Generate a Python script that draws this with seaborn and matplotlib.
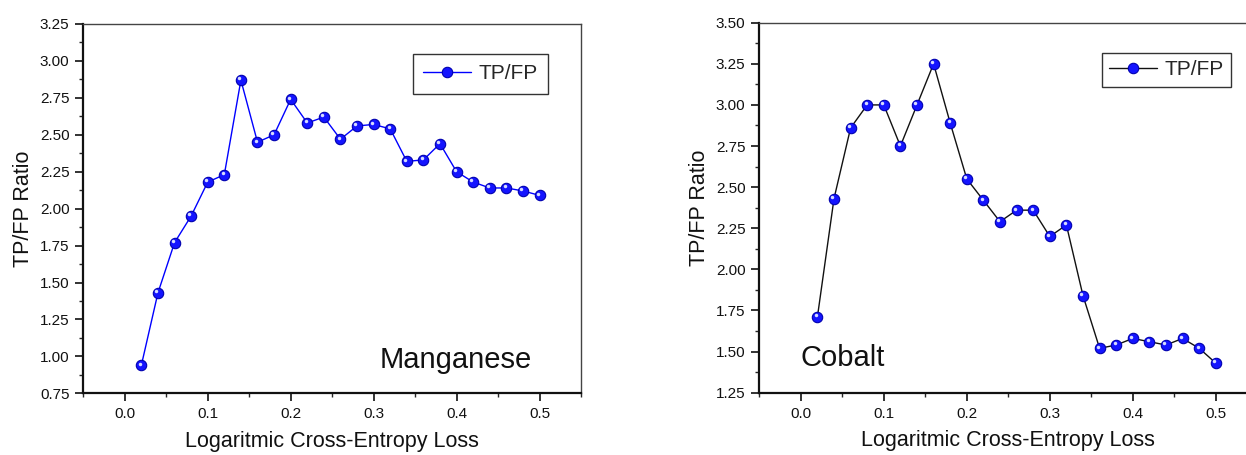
import matplotlib
matplotlib.use("Agg")
import matplotlib.pyplot as plt
import matplotlib.transforms as mtransforms
from matplotlib.ticker import MultipleLocator, FormatStrFormatter
import seaborn as sns
import pandas as pd

# Loss thresholds on the x axis
loss = [0.02, 0.04, 0.06, 0.08, 0.10, 0.12, 0.14, 0.16, 0.18, 0.20,
        0.22, 0.24, 0.26, 0.28, 0.30, 0.32, 0.34, 0.36, 0.38, 0.40,
        0.42, 0.44, 0.46, 0.48, 0.50]

# TP/FP ratio per threshold
manganese = [0.94, 1.43, 1.77, 1.95, 2.18, 2.23, 2.87, 2.45, 2.50, 2.74,
             2.58, 2.62, 2.47, 2.56, 2.57, 2.54, 2.32, 2.33, 2.44, 2.25,
             2.18, 2.14, 2.14, 2.12, 2.09]
cobalt = [1.71, 2.43, 2.86, 3.00, 3.00, 2.75, 3.00, 3.25, 2.89, 2.55,
          2.42, 2.29, 2.36, 2.36, 2.20, 2.27, 1.84, 1.52, 1.54, 1.58,
          1.56, 1.54, 1.58, 1.52, 1.43]

x_ticks = [0.0, 0.1, 0.2, 0.3, 0.4, 0.5]

sns.set_theme(style="white")
plt.rcParams["font.family"] = ["Liberation Sans", "DejaVu Sans"]

W, H = 1246, 455
fig = plt.figure(figsize=(W / 100, H / 100), dpi=100)

MARKER_BLUE = "#1414ff"


def draw_panel(ax, values, line_color, ylim, title, title_xy,
               legend_anchor, legend_pad, ylabel_pad):
    df = pd.DataFrame({"loss": loss, "ratio": values})
    sns.lineplot(data=df, x="loss", y="ratio", ax=ax, color=line_color,
                 linewidth=1.0, marker="o", markersize=7.5,
                 markerfacecolor=MARKER_BLUE, markeredgecolor="#0000b0",
                 markeredgewidth=0.8, label="TP/FP", zorder=3)
    # Specular highlight on each ball marker
    shine = mtransforms.offset_copy(ax.transData, fig=fig, x=-1.2, y=1.2,
                                    units="points")
    ax.plot(df["loss"], df["ratio"], linestyle="none", marker="o",
            markersize=2.5, markerfacecolor="#d6dcff",
            markeredgecolor="none", transform=shine, zorder=4)

    ax.set_xlim(-0.05, 0.55)
    ax.set_ylim(*ylim)
    ax.set_xticks(x_ticks)
    ax.xaxis.set_major_formatter(FormatStrFormatter("%.1f"))
    ax.xaxis.set_minor_locator(MultipleLocator(0.05))
    ax.yaxis.set_major_locator(MultipleLocator(0.25))
    ax.yaxis.set_minor_locator(MultipleLocator(0.125))
    ax.yaxis.set_major_formatter(FormatStrFormatter("%.2f"))

    ax.tick_params(axis="both", which="major", direction="out", length=6,
                   width=1.2, labelsize=11, pad=4, colors="#111111",
                   bottom=True, left=True, top=False, right=False)
    ax.tick_params(axis="both", which="minor", direction="out", length=3,
                   width=1.0, bottom=True, left=True, top=False, right=False)

    for side in ("left", "bottom"):
        ax.spines[side].set_linewidth(1.6)
        ax.spines[side].set_color("#111111")
    for side in ("top", "right"):
        ax.spines[side].set_linewidth(1.0)
        ax.spines[side].set_color("#444444")

    ax.set_xlabel("Logaritmic Cross-Entropy Loss", fontsize=15.5,
                  labelpad=7, color="#111111")
    ax.set_ylabel("TP/FP Ratio", fontsize=15.5, labelpad=ylabel_pad,
                  color="#111111")

    ax.text(title_xy[0], title_xy[1], title, fontsize=21, color="#111111",
            ha="left", va="baseline")

    leg = ax.legend(loc="upper left", bbox_to_anchor=legend_anchor,
                    bbox_transform=fig.transFigure, borderaxespad=0,
                    fontsize=15, frameon=True, fancybox=False,
                    framealpha=1, edgecolor="#333333", handlelength=2.3,
                    handletextpad=0.35, borderpad=legend_pad)
    leg.get_frame().set_linewidth(1.0)


ax1 = fig.add_axes([83.3 / W, 1 - 393.3 / H, (581 - 83.3) / W, (393.3 - 24) / H])
draw_panel(ax1, manganese, "#0000ff", (0.75, 3.25), "Manganese",
           (0.307, 0.92), (413 / W, 1 - 54 / H), 0.5, 4)

ax2 = fig.add_axes([759.3 / W, 1 - 392.7 / H, 498 / W, (392.7 - 22.7) / H])
draw_panel(ax2, cobalt, "#111111", (1.25, 3.50), "Cobalt",
           (0.0, 1.41), (1102 / W, 1 - 53 / H), 0.35, 4)

fig.savefig("out.png", dpi=100)
